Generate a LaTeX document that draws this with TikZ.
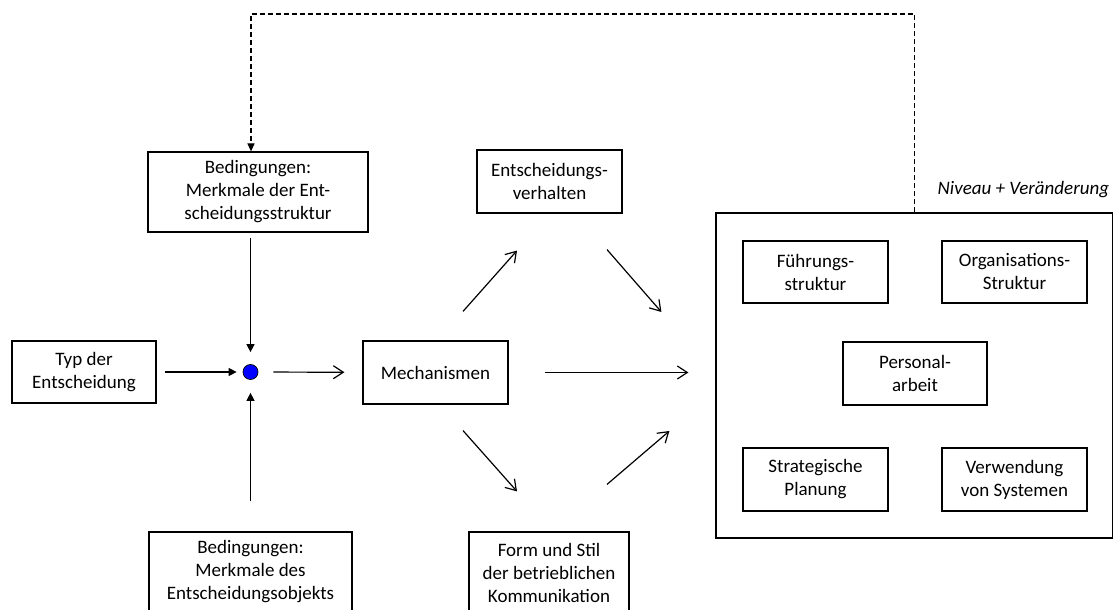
\documentclass[tikz,border=0pt]{standalone}
\usepackage{fontspec}
\setmainfont{Carlito}
\usetikzlibrary{positioning, calc, arrows.meta}

\begin{document}
\begin{tikzpicture} [x = 1pt, y = 1pt, line width = 1.2pt, node distance = 199pt,
  box/.style = {draw, align = center, inner sep = 0pt, font = \fontsize{19}{23}\selectfont},
  flow/.style = {-{Straight Barb[length = 10pt, width = 13pt]}},
  intodot/.style = {-{Triangle[length = 8pt, width = 8pt]}},
  back/.style = {dash pattern = on 5pt off 3pt, -{Triangle[length = 8pt, width = 7pt]}}]

\useasboundingbox (0,0) rectangle (1113,610);
\clip (0,0) rectangle (1113,610);

% linke Seite
\node [box, minimum width = 144pt, minimum height = 62pt] (typ) at (84,238) {Typ der\\Entscheidung};
\node [draw, circle, fill = blue, line width = 0.7pt, minimum size = 15pt, inner sep = 0pt] (dot) at (250.5,238) {};
\node [box, minimum width = 220pt, minimum height = 80pt] (cond1) at (258,418) {Bedingungen:\\Merkmale der Ent-\\scheidungsstruktur};
\node [box, minimum width = 203pt, minimum height = 80pt] (cond2) at (250.5,38) {Bedingungen:\\Merkmale des\\Entscheidungsobjekts};

% Mitte
\node [box, minimum width = 145pt, minimum height = 63pt] (mech) at (435.5,237.5) {Mechanismen};
\node [box, minimum width = 145pt, minimum height = 63pt] (verh) at (549.5,428.5) {Entscheidungs-\\verhalten};
\node [box, minimum width = 160pt, minimum height = 82pt] (form) at (549,37) {Form und Stil\\der betrieblichen\\Kommunikation};

% rechte Seite
\node [draw, minimum width = 397pt, minimum height = 325pt, inner sep = 0pt] (big) at (914.5,234.5) {};
\node [anchor = east, font = \fontsize{19}{23}\selectfont\itshape] (niveau) at (1113,420) {Niveau + Veränderung};
\node [box, minimum width = 145pt, minimum height = 62pt] (fuehr) at (815.5,338) {Führungs-\\struktur};
\node [box, minimum width = 145pt, minimum height = 62pt] (org) [right of = fuehr] {Organisations-\\Struktur};
\node [box, minimum width = 144pt, minimum height = 63pt] (pers) at (915,236.5) {Personal-\\arbeit};
\node [box, minimum width = 145pt, minimum height = 63pt] (strat) [below of = fuehr, node distance = 207.5pt] {Strategische\\Planung};
\node [box, minimum width = 145pt, minimum height = 63pt] (verw) [right of = strat] {Verwendung\\von Systemen};

% Pfeile zum Punkt
\path [intodot, shorten <= 8pt, shorten >= 6pt] (typ) edge (dot);
\path [intodot, shorten <= 5pt, shorten >= 12pt] (cond1.south -| dot) edge (dot);
\path [intodot, shorten <= 30pt, shorten >= 13pt] (cond2.north -| dot) edge (dot);
\path [flow, shorten <= 15pt, shorten >= 18pt] (dot) edge (mech);

% Pfeile um die Mechanismen
\path [flow, shorten <= 36pt, shorten >= 27pt] (mech) edge (mech -| big.west);
\draw [flow] ([shift = {(27.5,29)}]mech.north) -- ([shift = {(-32.5,-37)}]verh.south);
\draw [flow] ([shift = {(57.5,-36)}]verh.south) -- ([shift = {(-54,63.5)}]big.west);
\draw [flow] ([shift = {(27.5,-26)}]mech.south) -- ([shift = {(-32,40)}]form.north);
\draw [flow] ([shift = {(58,47)}]form.north) -- ([shift = {(-46,-55.5)}]big.west);

% Rueckkopplung
\coordinate (top) at (251,596);
\draw [back] (big.north) |- (top) -- (top |- cond1.north);

\end{tikzpicture}
\end{document}
